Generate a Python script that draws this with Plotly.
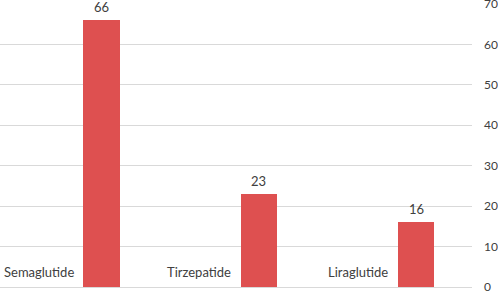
import plotly.graph_objects as go

categories = ["Semaglutide", "Tirzepatide", "Liraglutide"]
values = [66, 23, 16]
y_ticks = [0, 10, 20, 30, 40, 50, 60, 70]

FONT = "Lato"
TEXT = "#404040"
BAR = "#DE5050"

fig = go.Figure()
fig.add_trace(go.Bar(
    x=categories, y=values,
    offset=0.03, width=0.23,
    marker=dict(color=BAR, line=dict(width=0)),
    hoverinfo="skip",
))

for c, v in zip(categories, values):
    # value label above bar
    fig.add_annotation(
        x=c, y=v, xref="x", yref="y",
        text=str(v), showarrow=False,
        xanchor="center", yanchor="middle",
        xshift=0.145 * 472 / 3, yshift=13,
        font=dict(family=FONT, size=13, color=TEXT),
    )
    # category label inside plot at bottom
    fig.add_annotation(
        x=c, y=0, xref="x", yref="y",
        text=c, showarrow=False,
        xanchor="right", yanchor="middle",
        xshift=-3, yshift=15,
        font=dict(family=FONT, size=13, color=TEXT),
    )

fig.update_layout(
    width=498, height=291,
    margin=dict(l=0, r=26, t=4, b=4, autoexpand=False),
    paper_bgcolor="white", plot_bgcolor="white",
    showlegend=False,
    bargap=0,
)
fig.update_xaxes(
    type="category", range=[-0.5, 2.5], automargin=False,
    showticklabels=False, showgrid=False, zeroline=False, showline=False,
)
fig.update_yaxes(
    side="right", range=[0, 70], tickvals=y_ticks, automargin=False,
    showgrid=True, gridcolor="#D9D9D9", gridwidth=1,
    zeroline=True, zerolinecolor="#D9D9D9", zerolinewidth=1,
    showline=False, ticks="",
    ticklabelstandoff=11, ticklabeloverflow="allow",
    tickfont=dict(family=FONT, size=12, color=TEXT),
)

fig.write_html(
    "out.html",
    config={"displayModeBar": False},
    post_script="document.body.style.margin='0';document.body.style.overflow='hidden';",
)
